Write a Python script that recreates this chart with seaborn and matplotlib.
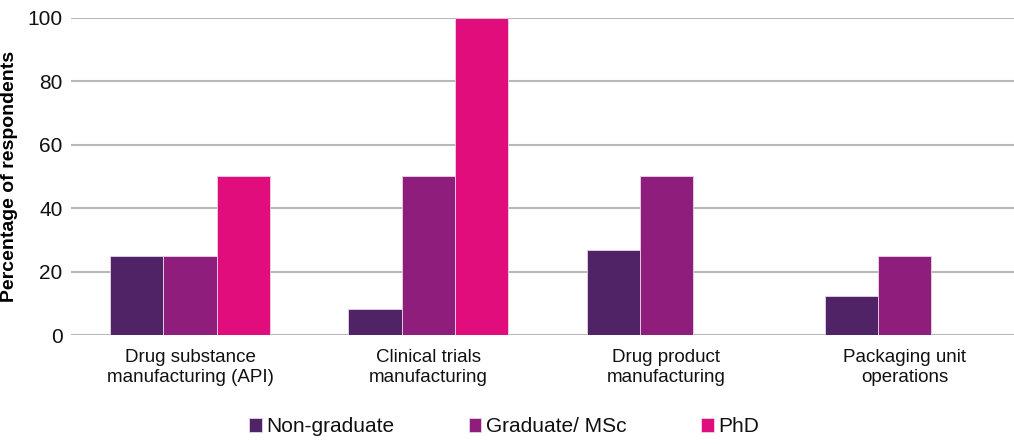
import pandas as pd
import matplotlib.pyplot as plt
import seaborn as sns

# data
categories = ['Drug substance\nmanufacturing (API)', 'Clinical trials\nmanufacturing',
              'Drug product\nmanufacturing', 'Packaging unit\noperations']
groups = ['Non-graduate', 'Graduate/ MSc', 'PhD']
non_graduate = [25, 8.3, 27, 12.5]
graduate_msc = [25, 50, 50, 25]
phd = [50, 100, 0, 0]
colors = ['#4F2366', '#8E1D7C', '#E20D7C']

df = pd.DataFrame({
    'category': categories * 3,
    'group': [groups[0]] * 4 + [groups[1]] * 4 + [groups[2]] * 4,
    'value': non_graduate + graduate_msc + phd,
})

sns.set_style('white')
plt.rcParams['font.family'] = ['Liberation Sans', 'DejaVu Sans']
plt.rcParams['text.color'] = '#111111'

fig = plt.figure(figsize=(10.14, 4.44), dpi=100)
ax = fig.add_axes([0.070, 0.245, 0.93, 0.715])

sns.barplot(data=df, x='category', y='value', hue='group', palette=colors,
            width=0.67, edgecolor='#E6D6E6', linewidth=0.6, saturation=1,
            ax=ax, legend=True)

ax.set_ylim(0, 100)
ax.set_xlim(-0.5, 3.46)
ax.set_yticks([0, 20, 40, 60, 80, 100])
ax.yaxis.grid(True, color='#B8B8B8', linewidth=1.5)
ax.set_axisbelow(True)
for s in ax.spines.values():
    s.set_visible(False)
ax.tick_params(axis='y', length=0, labelsize=15, pad=6, labelcolor='#111111')
ax.tick_params(axis='x', length=0, labelsize=13.5, pad=10, labelcolor='#111111')
ax.set_xlabel('')
ax.set_ylabel('Percentage of respondents', fontsize=14, fontweight='bold', color='#000000')
ax.yaxis.set_label_coords(-0.056, 0.5)

handles, labels = ax.get_legend_handles_labels()
ax.legend_.remove()
fig.legend(handles, labels, loc='lower center', bbox_to_anchor=(0.497, -0.025), ncol=3,
           frameon=False, fontsize=15, handlelength=0.6, handleheight=0.6,
           handletextpad=0.2, columnspacing=3.6)

plt.savefig('out.png', dpi=100)
